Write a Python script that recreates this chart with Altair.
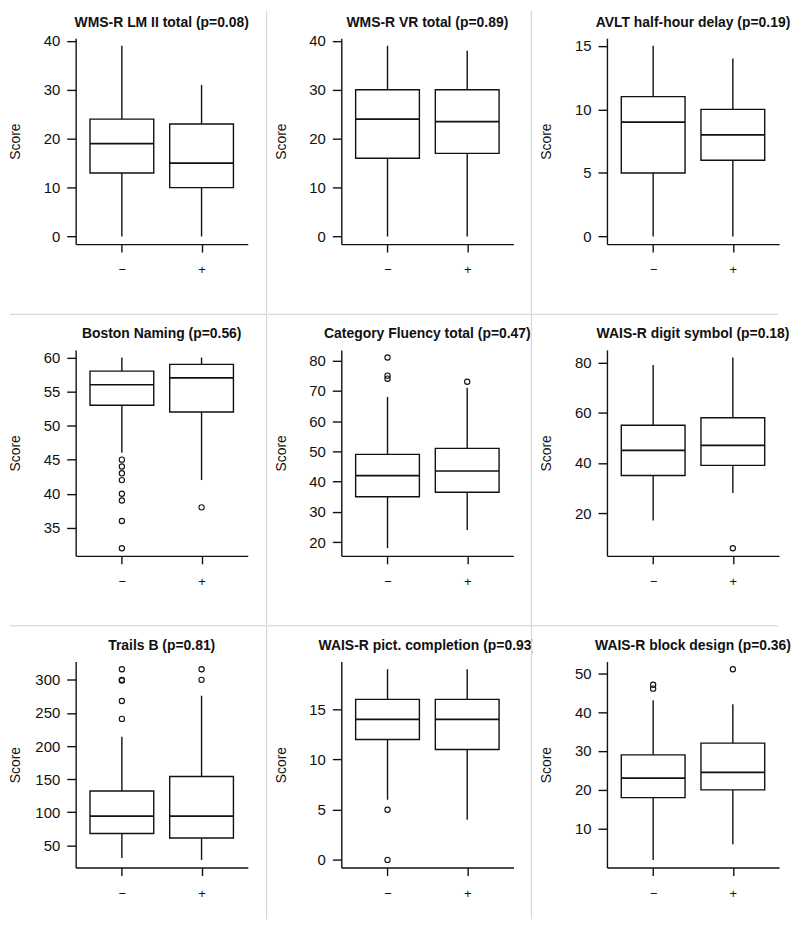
import altair as alt
import pandas as pd

# ---------------- data ----------------
TITLES = [
    "WMS-R LM II total (p=0.08)", "WMS-R VR total (p=0.89)", "AVLT half-hour delay (p=0.19)",
    "Boston Naming (p=0.56)", "Category Fluency total (p=0.47)", "WAIS-R digit symbol (p=0.18)",
    "Trails B (p=0.81)", "WAIS-R pict. completion (p=0.93)", "WAIS-R block design (p=0.36)",
]
GROUP_LABELS = ["\u2212", "+"]
GROUP_POS = [1, 2]

Y_TICKS = [
    [0, 10, 20, 30, 40], [0, 10, 20, 30, 40], [0, 5, 10, 15],
    [35, 40, 45, 50, 55, 60], [20, 30, 40, 50, 60, 70, 80], [20, 40, 60, 80],
    [50, 100, 150, 200, 250, 300], [0, 5, 10, 15], [10, 20, 30, 40, 50],
]
LOWER_WHISKER = [[0, 0], [0, 0], [0, 0], [46, 42], [18, 24], [17, 28], [31, 28], [6, 4], [2, 6]]
Q1 = [[13, 10], [16, 17], [5, 6], [53, 52], [35, 36.5], [35, 39], [68, 61], [12, 11], [18, 20]]
MEDIAN = [[19, 15], [24, 23.5], [9, 8], [56, 57], [42, 43.5], [45, 47], [94, 94], [14, 14], [23, 24.5]]
Q3 = [[24, 23], [30, 30], [11, 10], [58, 59], [49, 51], [55, 58], [132, 154], [16, 16], [29, 32]]
UPPER_WHISKER = [[39, 31], [39, 38], [15, 14], [60, 60], [68, 71], [79, 82], [214, 276], [19, 19], [43, 42]]
OUTLIERS_MINUS = [[], [], [], [45, 44, 43, 42, 40, 39, 36, 32], [81, 75, 74], [],
                  [316, 300, 299, 268, 241], [5, 0], [47, 46]]
OUTLIERS_PLUS = [[], [], [], [38], [73], [6], [316, 300], [], [51]]

# ---------------- styling / layout ----------------
FONT = "Liberation Sans"
INK = "#111111"
BORDER = "#cfcfcf"
LW = 1.4
BOX_HALF = 0.4
PLOT_W, PLOT_H = 173, 207
RIGHT_BORDER = [192, 191, 172]          # last column: no border (page edge)
DRAW_RIGHT = [True, True, False]
BOTTOM_BORDER = [277.5, 277.3, 259.0]   # last row trimmed so the page does not overflow
DRAW_BOTTOM = [True, True, False]
LEFT_EDGE = [-66, -74, -76]
TOP_EDGE = [-27.5, -35.5, -35.5]

label_expr = "datum.value == 1 ? '%s' : '%s'" % (GROUP_LABELS[0], GROUP_LABELS[1])


def panel(i):
    r, c = divmod(i, 3)
    vals = LOWER_WHISKER[i] + UPPER_WHISKER[i] + OUTLIERS_MINUS[i] + OUTLIERS_PLUS[i]
    lo, hi = min(vals), max(vals)
    ext = 0.04 * (hi - lo)
    xscale = alt.Scale(domain=[0.42, 2.58], nice=False, zero=False)
    yscale = alt.Scale(domain=[lo - ext, hi + ext], nice=False, zero=False)
    xaxis = alt.Axis(values=GROUP_POS, labelExpr=label_expr, title=None, grid=False,
                     tickSize=8, tickColor=INK, tickWidth=LW, domainColor=INK, domainWidth=LW,
                     labelFontSize=13, labelFont=FONT, labelColor=INK, labelPadding=18,
                     labelBaseline="middle", labelFlush=False, labelOverlap=False, zindex=1)
    yaxis = alt.Axis(values=Y_TICKS[i], title="Score", grid=False,
                     tickSize=9, tickColor=INK, tickWidth=LW, domainColor=INK, domainWidth=LW,
                     labelFontSize=15, labelFont=FONT, labelColor=INK, labelPadding=7,
                     labelFlush=False, labelOverlap=False,
                     titleFont=FONT, titleFontSize=14, titleFontWeight="normal", titleColor=INK,
                     titleAngle=270, titleX=-60.5, titleY=PLOT_H / 2, titleAlign="center",
                     titleBaseline="middle", zindex=1)

    def X(f):
        return alt.X(f"{f}:Q", scale=xscale, axis=xaxis)

    def Y(f):
        return alt.Y(f"{f}:Q", scale=yscale, axis=yaxis)

    box_df = pd.DataFrame({
        "pos": GROUP_POS,
        "left": [p - BOX_HALF for p in GROUP_POS],
        "right": [p + BOX_HALF for p in GROUP_POS],
        "low": LOWER_WHISKER[i], "q1": Q1[i], "med": MEDIAN[i], "q3": Q3[i], "high": UPPER_WHISKER[i],
    })
    out_df = pd.DataFrame({
        "pos": [GROUP_POS[0]] * len(OUTLIERS_MINUS[i]) + [GROUP_POS[1]] * len(OUTLIERS_PLUS[i]),
        "value": OUTLIERS_MINUS[i] + OUTLIERS_PLUS[i],
    })
    title_df = pd.DataFrame({"title": [TITLES[i]]})
    base = alt.Chart(box_df)
    one = alt.Chart(title_df)

    layers = []
    layers.append(one.mark_rect(fill="white", strokeWidth=0).encode(
        x=alt.value(LEFT_EDGE[c] + 1), x2=alt.value(RIGHT_BORDER[c] - 0.5),
        y=alt.value(TOP_EDGE[r] + 1), y2=alt.value(BOTTOM_BORDER[r] - 0.5)))
    layers.append(base.mark_rule(color=INK, strokeWidth=LW).encode(x=X("pos"), y=Y("q3"), y2="high"))
    layers.append(base.mark_rule(color=INK, strokeWidth=LW).encode(x=X("pos"), y=Y("low"), y2="q1"))
    layers.append(base.mark_rect(fill="white", stroke=INK, strokeWidth=LW).encode(
        x=X("left"), x2="right", y=Y("q1"), y2="q3"))
    layers.append(base.mark_rule(color=INK, strokeWidth=1.7).encode(
        x=X("left"), x2="right", y=Y("med")))
    layers.append(alt.Chart(out_df).mark_point(shape="circle", filled=False, color=INK, size=28,
                                               strokeWidth=1.1, opacity=1).encode(
        x=X("pos"), y=Y("value")))
    layers.append(one.mark_text(font=FONT, fontSize=14, fontWeight="bold", color=INK,
                                align="center", baseline="alphabetic").encode(
        text="title:N", x=alt.value(PLOT_W / 2), y=alt.value(-11.5)))
    if DRAW_RIGHT[c]:
        layers.append(one.mark_rule(color=BORDER, strokeWidth=1).encode(
            x=alt.value(RIGHT_BORDER[c]), y=alt.value(TOP_EDGE[r]), y2=alt.value(BOTTOM_BORDER[r])))
    if DRAW_BOTTOM[r]:
        layers.append(one.mark_rule(color=BORDER, strokeWidth=1).encode(
            x=alt.value(LEFT_EDGE[c]), x2=alt.value(RIGHT_BORDER[c]),
            y=alt.value(BOTTOM_BORDER[r])))

    return alt.layer(*layers).properties(width=PLOT_W, height=PLOT_H)


chart = alt.concat(
    *[panel(i) for i in range(9)], columns=3,
    spacing={"row": 106.3, "column": 94}, bounds="flush",
).properties(padding=0, background="white").configure_view(stroke=None)

chart.save("out.html", embed_options={"renderer": "svg", "actions": False})
